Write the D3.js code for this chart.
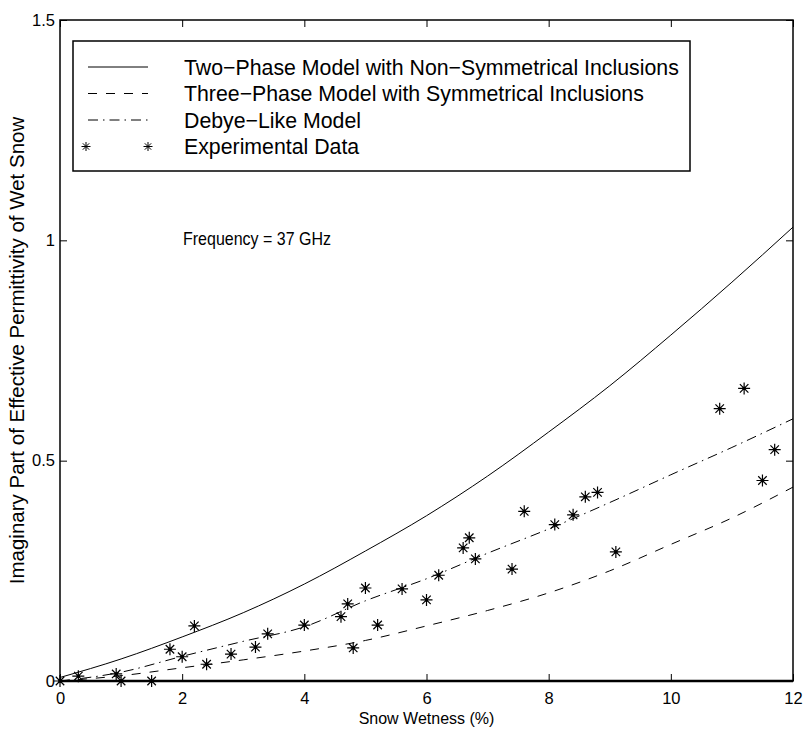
<!DOCTYPE html>
<html>
<head>
<meta charset="utf-8">
<script src="https://cdn.jsdelivr.net/npm/d3@7"></script>
<style>
  body { margin: 0; background: #fff; }
  svg { font-family: "Liberation Sans", Arial, Helvetica, sans-serif; }
  .tick text { font-size: 16.5px; fill: #000; }
  .tick line { stroke: #000; }
</style>
</head>
<body>
<svg width="805" height="731"></svg>
<script>
// model curves (snow wetness %, imaginary permittivity)
var wetness = [0, 1, 2, 3, 4, 5, 6, 7, 8, 9, 10, 11, 12];
var twoPhase = [0.008, 0.05, 0.1, 0.155, 0.22, 0.295, 0.375, 0.465, 0.565, 0.67, 0.785, 0.905, 1.03];
var threePhase = [0, 0.012, 0.03, 0.048, 0.068, 0.092, 0.125, 0.16, 0.2, 0.25, 0.31, 0.37, 0.44];
var debye = [0, 0.02, 0.056, 0.09, 0.123, 0.182, 0.232, 0.29, 0.345, 0.405, 0.468, 0.53, 0.595];

// measured points
var expX = [0, 0.3, 0.92, 1.0, 1.5, 1.8, 2.0, 2.2, 2.4, 2.8, 3.2, 3.4, 4.0, 4.6, 4.71, 4.8, 5.0, 5.2, 5.6, 6.0,
            6.2, 6.6, 6.7, 6.8, 7.4, 7.6, 8.1, 8.4, 8.6, 8.8, 9.1, 10.8, 11.2, 11.5, 11.7];
var expY = [0, 0.011, 0.016, 0, 0, 0.072, 0.055, 0.125, 0.038, 0.061, 0.077, 0.107, 0.127, 0.146, 0.175, 0.075, 0.211, 0.127, 0.209, 0.184,
            0.24, 0.302, 0.325, 0.277, 0.254, 0.385, 0.355, 0.377, 0.418, 0.428, 0.293, 0.618, 0.664, 0.455, 0.525];

var xTicks = [0, 2, 4, 6, 8, 10, 12];
var yTicks = [0, 0.5, 1, 1.5];

var legendNames = ["Two\u2212Phase Model with Non\u2212Symmetrical Inclusions",
                   "Three\u2212Phase Model with Symmetrical Inclusions",
                   "Debye\u2212Like Model",
                   "Experimental Data"];

var svg = d3.select("svg"),
    margin = {top: 20, right: 12, bottom: 50, left: 60},
    width = svg.attr("width") - margin.left - margin.right,
    height = svg.attr("height") - margin.top - margin.bottom;

var x = d3.scaleLinear().domain([0, 12]).range([0, width]);
var y = d3.scaleLinear().domain([0, 1.5]).range([height, 0]);

var g = svg.append("g")
    .attr("transform", "translate(" + margin.left + "," + margin.top + ")");

// axes, matlab style ticks inside on all four sides
g.append("g")
    .attr("transform", "translate(0," + height + ")")
    .call(d3.axisBottom(x).tickValues(xTicks).tickSizeInner(-7).tickSizeOuter(0).tickPadding(11).tickFormat(d3.format("")))
    .call(function(a) { a.select(".domain").remove(); });

g.append("g")
    .call(d3.axisTop(x).tickValues(xTicks).tickSizeInner(-7).tickSizeOuter(0).tickFormat(""))
    .call(function(a) { a.select(".domain").remove(); });

g.append("g")
    .call(d3.axisLeft(y).tickValues(yTicks).tickSizeInner(-7).tickSizeOuter(0).tickPadding(5).tickFormat(d3.format("")))
    .call(function(a) { a.select(".domain").remove(); });

g.append("g")
    .attr("transform", "translate(" + width + ",0)")
    .call(d3.axisRight(y).tickValues(yTicks).tickSizeInner(-7).tickSizeOuter(0).tickFormat(""))
    .call(function(a) { a.select(".domain").remove(); });

g.append("rect")
    .attr("width", width)
    .attr("height", height)
    .attr("fill", "none")
    .attr("stroke", "#000")
    .attr("stroke-width", 1.5);

g.append("line")
    .attr("x1", 0).attr("x2", width)
    .attr("y1", height).attr("y2", height)
    .attr("stroke", "#000")
    .attr("stroke-width", 2.5);

// curves
var line = d3.line()
    .curve(d3.curveMonotoneX)
    .x(function(d) { return x(d[0]); })
    .y(function(d) { return y(d[1]); });

var styles = ["none", "9,9", "10,5,1.5,5"];
[twoPhase, threePhase, debye].forEach(function(s, i) {
    g.append("path")
        .datum(wetness.map(function(w, j) { return [w, s[j]]; }))
        .attr("fill", "none")
        .attr("stroke", "#000")
        .attr("stroke-width", 1)
        .attr("stroke-dasharray", styles[i])
        .attr("d", line);
});

function star(r) {
    var k = r * 0.7071;
    return "M" + (-r) + ",0H" + r + "M0," + (-r) + "V" + r +
           "M" + (-k) + "," + (-k) + "L" + k + "," + k +
           "M" + (-k) + "," + k + "L" + k + "," + (-k);
}

var pts = g.append("g").selectAll("g")
    .data(expX.map(function(v, i) { return [v, expY[i]]; }))
    .enter().append("g")
    .attr("transform", function(d) { return "translate(" + x(d[0]) + "," + y(d[1]) + ")"; });

pts.append("path")
    .attr("d", star(6))
    .attr("stroke", "#000")
    .attr("stroke-width", 1.2)
    .attr("fill", "none");

pts.append("rect")
    .attr("x", -1.5).attr("y", -1.5)
    .attr("width", 3).attr("height", 3)
    .attr("fill", "#000");

// legend
var lg = svg.append("g").attr("transform", "translate(73,41)");
lg.append("rect")
    .attr("width", 617)
    .attr("height", 130)
    .attr("fill", "#fff")
    .attr("stroke", "#000")
    .attr("stroke-width", 1.5);

legendNames.forEach(function(name, i) {
    var yy = 26 + i * 26.5;
    if (i < 3) {
        lg.append("line")
            .attr("x1", 15).attr("x2", 75)
            .attr("y1", yy).attr("y2", yy)
            .attr("stroke", "#000")
            .attr("stroke-width", 1)
            .attr("stroke-dasharray", styles[i]);
    } else {
        [13, 75].forEach(function(sx) {
            lg.append("path")
                .attr("transform", "translate(" + sx + "," + yy + ")")
                .attr("d", star(4.5))
                .attr("stroke", "#000")
                .attr("fill", "none");
        });
    }
    lg.append("text")
        .attr("x", 111)
        .attr("y", yy + 7.5)
        .attr("font-size", 21.3)
        .text(name);
});

svg.append("text")
    .attr("transform", "translate(183,245) scale(1,1.15)")
    .attr("font-size", 16)
    .text("Frequency = 37 GHz");

svg.append("text")
    .attr("x", margin.left + width / 2)
    .attr("y", 724)
    .attr("text-anchor", "middle")
    .attr("font-size", 16)
    .text("Snow Wetness (%)");

svg.append("text")
    .attr("transform", "translate(24," + (margin.top + height / 2) + ") rotate(-90)")
    .attr("text-anchor", "middle")
    .attr("font-size", 20.5)
    .text("Imaginary Part of Effective Permittivity of Wet Snow");
</script>
</body>
</html>
